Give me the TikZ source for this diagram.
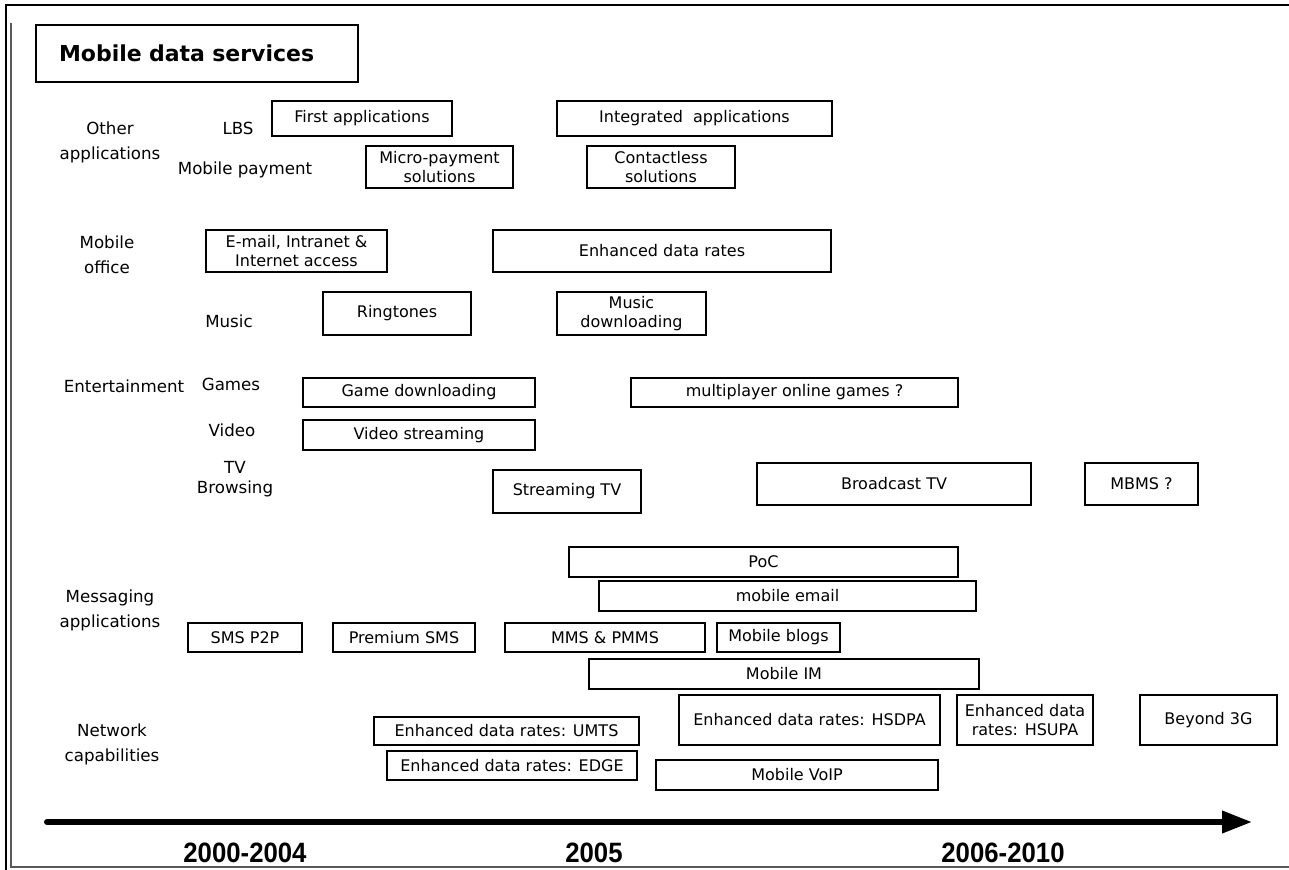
\documentclass[tikz,border=0pt]{standalone}
\usepackage{fontspec}
\setmainfont{DejaVu Sans}
\newfontfamily\yearfont{Liberation Sans}
\usetikzlibrary{arrows.meta}

\tikzset{
	srv/.style={draw, line width=1.1pt, inner sep=0pt, align=center, font=\fontsize{12}{14}\selectfont},
	lbl/.style={align=center, inner sep=0pt, font=\fontsize{12.5}{18.75}\selectfont},
	yr/.style={inner sep=0pt, font=\yearfont\bfseries\fontsize{21}{23}\selectfont}
}
\newcommand{\svc}[6]{\node[srv, minimum width={(#4-#2)*0.75pt}, minimum height={(#5-#3)*0.75pt}] (#1) at ({(#2+#4)/2},{(#3+#5)/2}) {#6};}
\newcommand{\yrtext}[1]{\scalebox{0.92}[1]{#1}}

\begin{document}
\begin{tikzpicture}[x=0.75pt, y=-0.75pt]
		\useasboundingbox (0,0) rectangle (1289,870);

		\draw[line width=2pt] (6,870) -- (6,5) -- (1289,5);
		\draw[black!65, line width=1.2pt] (11,23) -- (11,867) -- (1289,867);

		\node[draw, line width=1.1pt, inner ysep=0pt, inner xsep=17.25pt, text width=207pt, minimum height=42.75pt, align=left, font=\bfseries\fontsize{16.5}{18}\selectfont] (title) at (197,53.5) {Mobile data services};

		\node[lbl] (other) at (110,142) {Other\\applications};
		\node[lbl] (lbs) at (238,128) {LBS};
		\node[lbl] (pay) at (245,170) {Mobile payment};
		\node[lbl] (office) at (107,255) {Mobile\\office};
		\node[lbl] (music) at (229,321) {Music};
		\node[lbl] (ent) at (124,386) {Entertainment};
		\node[lbl] (games) at (231,384) {Games};
		\node[lbl] (video) at (232,430) {Video};
		\node[lbl, font=\fontsize{12.5}{14.5}\selectfont] (tv) at (235,479) {TV\\Browsing};
		\node[lbl] (msg) at (110,610) {Messaging\\applications};
		\node[lbl] (net) at (112,744) {Network\\capabilities};

		\svc{firstapp}{272}{101}{452}{136}{First applications}
		\svc{intapp}{557}{101}{832}{136}{Integrated\ \ applications}
		\svc{micro}{366}{146}{513}{188}{Micro-payment\\solutions}
		\svc{contact}{587}{146}{735}{188}{Contactless\\solutions}
		\svc{email}{206}{230}{387}{272}{E-mail, Intranet \&\\Internet access}
		\svc{enhrate}{493}{230}{831}{272}{Enhanced data rates}
		\svc{ring}{323}{292}{471}{335}{Ringtones}
		\svc{musicdl}{557}{292}{706}{335}{Music\\downloading}
		\svc{gamedl}{303}{378}{535}{407}{Game downloading}
		\svc{multi}{631}{378}{958}{407}{multiplayer online games ?}
		\svc{vidstr}{303}{420}{535}{450}{Video streaming}
		\svc{strtv}{493}{470}{641}{513}{Streaming TV}
		\svc{bctv}{757}{463}{1031}{505}{Broadcast TV}
		\svc{mbms}{1085}{463}{1198}{505}{MBMS ?}
		\svc{poc}{569}{547}{958}{577}{PoC}
		\svc{memail}{599}{581}{976}{611}{mobile email}
		\svc{sms}{188}{623}{302}{652}{SMS P2P}
		\svc{psms}{333}{623}{475}{652}{Premium SMS}
		\svc{mms}{505}{623}{705}{652}{MMS \& PMMS}
		\svc{blogs}{717}{623}{840}{652}{Mobile blogs}
		\svc{mim}{589}{659}{979}{689}{Mobile IM}
		\svc{hsdpa}{679}{695}{940}{745}{Enhanced data rates: HSDPA}
		\svc{hsupa}{957}{695}{1093}{745}{Enhanced data\\rates: HSUPA}
		\svc{beyond}{1140}{695}{1277}{745}{Beyond 3G}
		\svc{umts}{374}{717}{639}{745}{Enhanced data rates: UMTS}
		\svc{edge}{387}{751}{637}{780}{Enhanced data rates: EDGE}
		\svc{voip}{656}{760}{938}{790}{Mobile VoIP}

		\coordinate (tstart) at (47,822);
		\coordinate (tend) at (1252,822);
		\draw[line width=4.5pt, line cap=round, -{Triangle[length=22.5pt, width=16pt]}] (tstart) -- (tend);

		\node[yr] (y1) at (245,853) {\yrtext{2000-2004}};
		\node[yr] (y2) at (594,853) {\yrtext{2005}};
		\node[yr] (y3) at (1003,853) {\yrtext{2006-2010}};
	\end{tikzpicture}
\end{document}
